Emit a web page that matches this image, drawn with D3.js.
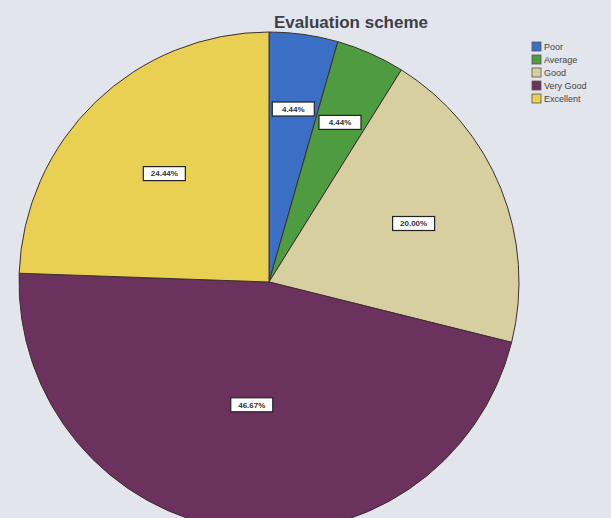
<!DOCTYPE html>
<html>
<head>
<meta charset="utf-8">
<script src="https://cdn.jsdelivr.net/npm/d3@7"></script>
<style>
  body { margin: 0; background: #e2e5eb; }
  svg { display: block; }
</style>
</head>
<body>
<div id="chart"></div>
<script>
// categories and their share of answers (%)
let categories = ["Poor", "Average", "Good", "Very Good", "Excellent"];
let percents = [4.44, 4.44, 20.00, 46.67, 24.44];
let colours = ["#3b6fc6", "#4f9c40", "#d8cfa1", "#6c325e", "#e9cf52"];

let width = 611, height = 518;
let cx = 269, cy = 282, radius = 250;

let svg = d3.select("#chart").append("svg")
    .attr("width", width)
    .attr("height", height);

svg.append("rect")
    .attr("width", width).attr("height", height)
    .attr("fill", "#e2e5eb");

// title
svg.append("text")
    .attr("x", 351).attr("y", 28)
    .attr("text-anchor", "middle")
    .style("font-family", "Liberation Sans, Arial, sans-serif")
    .style("font-weight", "bold")
    .style("font-size", "17px")
    .style("fill", "#3c3f48")
    .text("Evaluation scheme");

let data = categories.map(function(c, i) {
    return { name: c, value: percents[i], colour: colours[i] };
});

//clockwise from 12 o'clock, in the given order
let pie = d3.pie().sort(null).value(function(d) { return d.value; });
let arc = d3.arc().innerRadius(0).outerRadius(radius);

let g = svg.append("g").attr("transform", "translate(" + cx + "," + cy + ")");

let slices = g.selectAll("path")
    .data(pie(data))
    .enter()
    .append("path")
    .attr("d", arc)
    .attr("fill", function(d) { return d.data.colour; })
    .attr("stroke", "#3a3030")
    .attr("stroke-width", 1);

// smaller slices get their label further out
let labelPos = d3.scaleLinear().domain([0, 50]).range([0.72, 0.48]);

let labels = g.selectAll("g.lab")
    .data(pie(data))
    .enter()
    .append("g")
    .attr("class", "lab")
    .attr("transform", function(d) {
        let r = radius * labelPos(d.data.value);
        let a = (d.startAngle + d.endAngle) / 2;
        return "translate(" + (Math.sin(a) * r) + "," + (-Math.cos(a) * r) + ")";
    });

labels.append("rect")
    .attr("x", -21).attr("y", -7)
    .attr("width", 42).attr("height", 14)
    .attr("fill", "#ffffff")
    .attr("stroke", "#222")
    .attr("stroke-width", 1.2);

labels.append("text")
    .attr("text-anchor", "middle")
    .attr("dy", "0.35em")
    .style("font-family", "Liberation Sans, Arial, sans-serif")
    .style("font-weight", "bold")
    .style("font-size", "8px")
    .style("fill", "#333")
    .text(function(d) { return d.data.value.toFixed(2) + "%"; });

// legend
let legend = svg.append("g").attr("transform", "translate(532,42)");

let items = legend.selectAll("g")
    .data(data)
    .enter()
    .append("g")
    .attr("transform", function(d, i) { return "translate(0," + (i * 13) + ")"; });

items.append("rect")
    .attr("width", 9).attr("height", 9)
    .attr("fill", function(d) { return d.colour; })
    .attr("stroke", "#555")
    .attr("stroke-width", 0.8);

items.append("text")
    .attr("x", 12).attr("y", 8)
    .style("font-family", "Liberation Sans, Arial, sans-serif")
    .style("font-size", "9px")
    .style("fill", "#444")
    .text(function(d) { return d.name; });
</script>
</body>
</html>
